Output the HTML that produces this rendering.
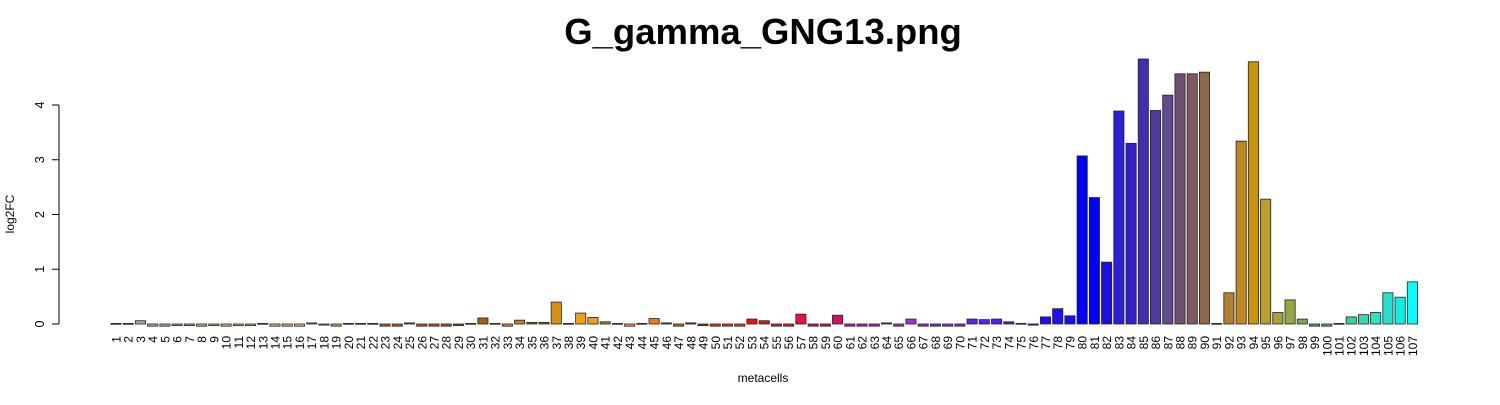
<!DOCTYPE html>
<html><head><meta charset="utf-8"><style>
body{margin:0;background:#fff;}
svg{font-family:"Liberation Sans",sans-serif;}
</style></head><body>
<svg id="chart" width="1500" height="400">
<text x="763" y="44" text-anchor="middle" font-size="36.5" font-weight="bold">G_gamma_GNG13.png</text>
<text x="763" y="382" text-anchor="middle" font-size="12">metacells</text>
<text transform="translate(14,214) rotate(-90)" text-anchor="middle" font-size="12">log2FC</text>
<g id="yaxis"></g>
<g id="bars"></g>
<g id="xlabels"></g>
</svg>
<script>
const values=[0.01,0.01,0.06,-0.04,-0.04,-0.03,-0.03,-0.04,-0.03,-0.04,-0.03,-0.03,0.01,-0.04,-0.04,-0.04,0.02,-0.02,-0.04,0.01,
0.01,0.01,-0.04,-0.04,0.02,-0.04,-0.04,-0.04,-0.03,0.01,0.11,0.01,-0.04,0.07,0.03,0.03,0.40,0.01,0.20,0.12,
0.04,0.01,-0.04,0.01,0.10,0.02,-0.04,0.02,-0.03,-0.04,-0.04,-0.04,0.09,0.06,-0.04,-0.04,0.18,-0.04,-0.04,0.16,
-0.04,-0.04,-0.04,0.02,-0.04,0.09,-0.04,-0.04,-0.04,-0.04,0.09,0.08,0.09,0.04,0.01,-0.02,0.13,0.28,0.15,3.07,
2.31,1.13,3.89,3.30,4.84,3.90,4.18,4.57,4.57,4.60,0.01,0.57,3.34,4.79,2.28,0.21,0.44,0.09,-0.04,-0.04,
0.01,0.13,0.17,0.21,0.57,0.49,0.77];
const categories=values.map((v,i)=>String(i+1));
const yTicks=[0,1,2,3,4];
const colors=["#444","#444","#a9a9a9","#b0a890","#b0a890","#b4a88e","#b4a88e","#c8ac8a","#d0ae88","#d8b088","#d8b088","#d8b088","#555","#e0b488","#e0b488","#e0b488","#a89078","#a88868","#c89868","#888",
"#777","#bbb","#a0642a","#a0642a","#a06a30","#a0602a","#a0602a","#a0602a","#9a5a28","#333","#a06010","#bbb","#d08820","#c8801a","#8b6a3a","#8b6a3a","#d89010","#555","#f0a010","#f0a020",
"#b08030","#bbb","#f0a030","#ccc","#f07818","#444","#e06020","#333","#c03010","#e04020","#e04020","#e04020","#f01010","#e01010","#e02030","#e02030","#e81040","#d01850","#d01850","#d01070",
"#c02090","#c020a0","#c020a8","#a02080","#b030c0","#a030d0","#8030e0","#8030e0","#8030e0","#8030e0","#6020f0","#5a20f0","#5020f0","#5020e0","#ccc","#3010e0","#2010f0","#2010f0","#1a10f0","#0000ff",
"#0000ff","#1a10e0","#2a20d8","#3520c8","#4030b0","#503aa0","#604a90","#705070","#805a60","#906848","#aaa","#b08030","#c08820","#c89410","#b8a030","#a8a038","#98a840","#80a850","#60a060","#60a870",
"#333","#40d0a0","#38d8b0","#30e0c0","#28e0d0","#10f0e0","#00ffff"];
const NS="http://www.w3.org/2000/svg";
const y0=324, unit=54.75, step=12.23, x1=116, bw=10.2;
const yScale=v=>y0-v*unit;
const xScale=i=>x1+i*step;
const yg=document.getElementById('yaxis');
const ax=document.createElementNS(NS,'line');
ax.setAttribute('x1',59);ax.setAttribute('x2',59);ax.setAttribute('y1',yScale(0));ax.setAttribute('y2',yScale(4));ax.setAttribute('stroke','#000');


yg.appendChild(ax);
yTicks.forEach(t=>{
 const l=document.createElementNS(NS,'line');
 l.setAttribute('x1',52);l.setAttribute('x2',59);l.setAttribute('y1',yScale(t));l.setAttribute('y2',yScale(t));l.setAttribute('stroke','#000');
 
 
 yg.appendChild(l);
 const tx=document.createElementNS(NS,'text');
 tx.setAttribute('transform',`translate(44,${yScale(t)}) rotate(-90)`);
 tx.setAttribute('text-anchor','middle');tx.setAttribute('font-size','12.5');
 tx.textContent=t;
 
 
 yg.appendChild(tx);
});
const bg=document.getElementById('bars'), xg=document.getElementById('xlabels');
values.forEach((v,i)=>{
 const r=document.createElementNS(NS,'rect');
 const top=Math.min(yScale(v),yScale(0)), h=Math.max(Math.abs(yScale(v)-yScale(0)),0.8);
 r.setAttribute('x',xScale(i)-bw/2);r.setAttribute('y',top);r.setAttribute('width',bw);r.setAttribute('height',h);
 r.setAttribute('fill',colors[i]);r.setAttribute('stroke','#222');r.setAttribute('stroke-width','0.8');
 
 
 bg.appendChild(r);
 const tx=document.createElementNS(NS,'text');
 tx.setAttribute('transform',`translate(${xScale(i)+4.5},336) rotate(-90)`);
 tx.setAttribute('text-anchor','end');tx.setAttribute('font-size','12');
 tx.textContent=categories[i];
 
 
 xg.appendChild(tx);
});
</script>
</body></html>
